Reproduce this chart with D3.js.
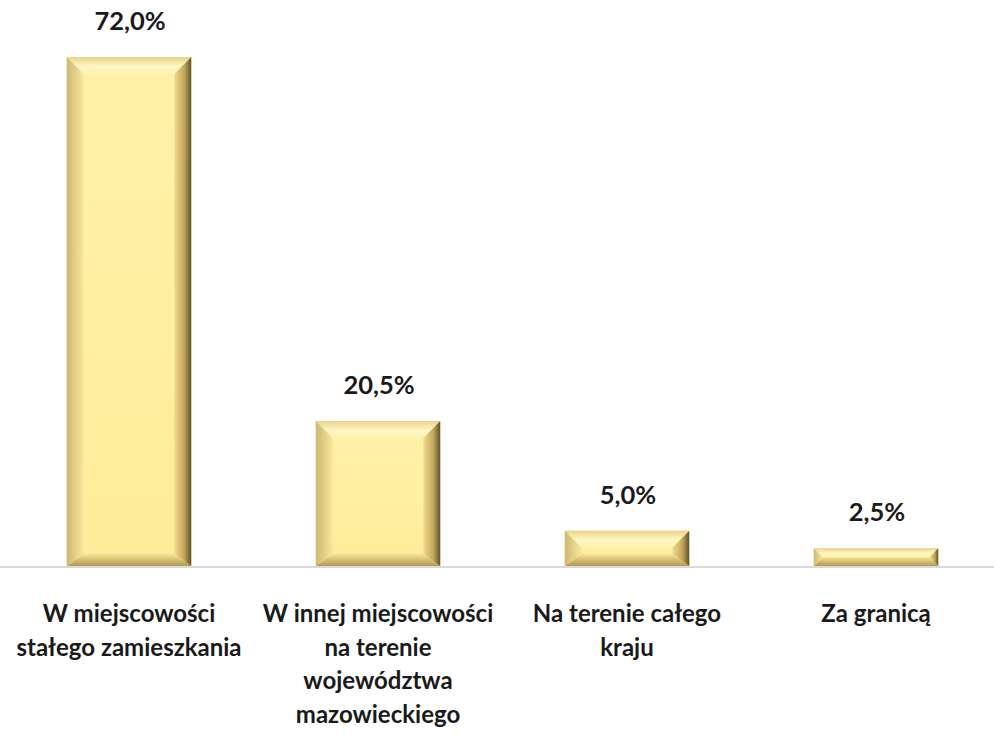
<!DOCTYPE html>
<html><head><meta charset="utf-8">
<script src="https://cdn.jsdelivr.net/npm/d3@7"></script>
<style>html,body{margin:0;padding:0;background:#fff;}svg{display:block;}</style>
</head><body>
<svg id="c" width="994" height="741"></svg>
<script>
const categories = [
  ["W miejscowości", "stałego zamieszkania"],
  ["W innej miejscowości", "na terenie", "województwa", "mazowieckiego"],
  ["Na terenie całego", "kraju"],
  ["Za granicą"]
];
const values = [72.0, 20.5, 5.0, 2.5];
const valueLabels = ["72,0%", "20,5%", "5,0%", "2,5%"];

const svg = d3.select("#c");
const W = 994, H = 741;
const baseY = 566;
const x = d3.scaleBand().domain(d3.range(values.length)).range([4.5, 1000.5]).paddingInner(0.5).paddingOuter(0.25);
const y = d3.scaleLinear().domain([0, 72]).range([baseY, 57]);

const defs = svg.append("defs");
function lg(id, x1, y1, x2, y2, stops) {
  const g = defs.append("linearGradient").attr("id", id)
    .attr("x1", x1).attr("y1", y1).attr("x2", x2).attr("y2", y2);
  stops.forEach(s => g.append("stop").attr("offset", s[0]).attr("stop-color", s[1]));
}
lg("gFace", 0, 0, 0, 1, [[0, "#FFF2A8"], [1, "#FFEC9A"]]);
lg("gTop", 0, 0, 0, 1, [[0, "#E9D38A"], [0.55, "#FFF6C4"], [1, "#FFF3B0"]]);
lg("gLeft", 0, 0, 1, 0, [[0, "#CDB873"], [1, "#FAE79C"]]);
lg("gRight", 0, 0, 1, 0, [[0, "#F3DC8C"], [0.6, "#BFA65C"], [1, "#5E5128"]]);
lg("gBottom", 0, 0, 0, 1, [[0, "#F8E394"], [1, "#B09A55"]]);

svg.append("line").attr("x1", 0).attr("x2", W).attr("y1", baseY + 1).attr("y2", baseY + 1)
  .attr("stroke", "#D9D9D9").attr("stroke-width", 2);

const bars = svg.append("g").selectAll("g").data(values).join("g");
bars.each(function(v, i) {
  const g = d3.select(this);
  const x0 = x(i), x1 = x(i) + x.bandwidth();
  const y0 = y(v), y1 = y(0);
  const h = y1 - y0;
  const b = Math.min(17, h / 2);
  const bb = Math.min(12, h / 2);
  g.append("rect").attr("x", x0).attr("y", y0).attr("width", x1 - x0).attr("height", h).attr("fill", "url(#gFace)");
  const poly = pts => g.append("polygon").attr("points", pts.map(p => p.join(",")).join(" "));
  poly([[x0, y0], [x1, y0], [x1 - b, y0 + b], [x0 + b, y0 + b]]).attr("fill", "url(#gTop)");
  poly([[x0, y1], [x1, y1], [x1 - b, y1 - bb], [x0 + b, y1 - bb]]).attr("fill", "url(#gBottom)");
  poly([[x0, y0], [x0 + b, y0 + b], [x0 + b, y1 - bb], [x0, y1]]).attr("fill", "url(#gLeft)");
  poly([[x1, y0], [x1 - b, y0 + b], [x1 - b, y1 - bb], [x1, y1]]).attr("fill", "url(#gRight)");
});

svg.append("g").selectAll("text").data(values).join("text")
  .attr("x", (d, i) => x(i) + x.bandwidth() / 2 + 1)
  .attr("y", d => y(d) - 27)
  .attr("text-anchor", "middle")
  .attr("font-family", "Lato, 'Open Sans', sans-serif")
  .attr("font-weight", "bold")
  .attr("font-size", 25.5)
  .attr("fill", "#1a1a1a")
  .text((d, i) => valueLabels[i]);

const cg = svg.append("g").selectAll("text").data(categories).join("text")
  .attr("text-anchor", "middle")
  .attr("font-family", "Lato, 'Open Sans', sans-serif")
  .attr("font-weight", "bold")
  .attr("font-size", 24)
  .attr("fill", "#1a1a1a");
cg.each(function(lines, i) {
  const t = d3.select(this);
  lines.forEach((ln, j) => {
    t.append("tspan").attr("x", x(i) + x.bandwidth() / 2).attr("y", 622 + j * 33.5).text(ln);
  });
});
</script>
</body></html>
